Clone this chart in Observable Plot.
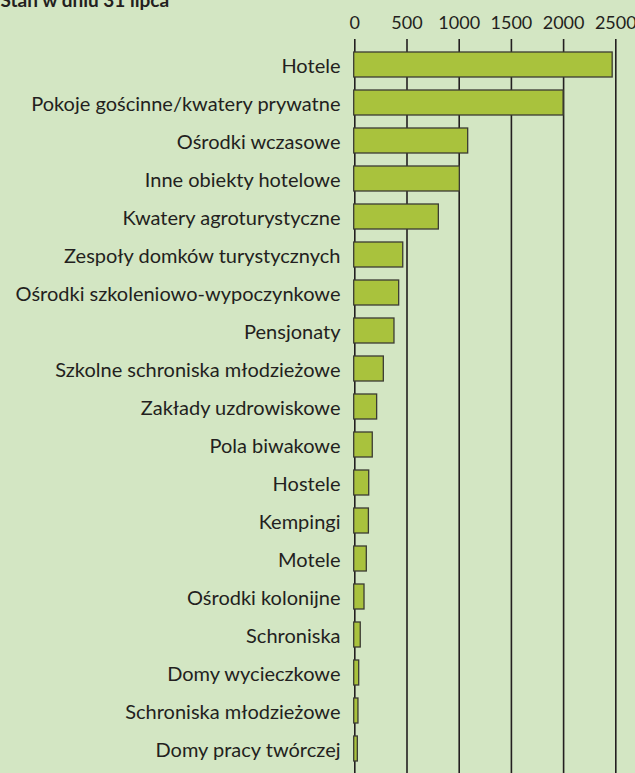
<!DOCTYPE html>
<html>
<head>
<meta charset="utf-8">
<script src="https://cdn.jsdelivr.net/npm/d3@7"></script>
<script src="https://cdn.jsdelivr.net/npm/@observablehq/plot@0.6"></script>
<style>
  html, body { margin: 0; padding: 0; background: #d3e6c3; overflow: hidden; }
  #chart svg { display: block; }
</style>
</head>
<body>
<div id="chart"></div>
<script>
const title = "Stan w dniu 31 lipca";
const categories = [
  "Hotele",
  "Pokoje gościnne/kwatery prywatne",
  "Ośrodki wczasowe",
  "Inne obiekty hotelowe",
  "Kwatery agroturystyczne",
  "Zespoły domków turystycznych",
  "Ośrodki szkoleniowo-wypoczynkowe",
  "Pensjonaty",
  "Szkolne schroniska młodzieżowe",
  "Zakłady uzdrowiskowe",
  "Pola biwakowe",
  "Hostele",
  "Kempingi",
  "Motele",
  "Ośrodki kolonijne",
  "Schroniska",
  "Domy wycieczkowe",
  "Schroniska młodzieżowe",
  "Domy pracy twórczej"
];
const values = [2470, 2000, 1086, 1006, 805, 464, 425, 380, 278, 214, 172, 138, 135, 115, 93, 57, 42, 35, 29];
const xTicks = [0, 500, 1000, 1500, 2000, 2500];

const data = categories.map((c, i) => ({name: c, value: values[i]}));
const ink = "#231f20";

const chart = Plot.plot({
  width: 635,
  height: 773,
  marginLeft: 354,
  marginRight: 20,
  marginTop: 39,
  marginBottom: 0,
  style: {background: "#d3e6c3", fontFamily: "Lato, 'Open Sans', sans-serif", color: ink},
  x: {domain: [0, 2500], range: [354.3, 615.3], ticks: xTicks, label: null},
  y: {domain: categories, paddingInner: 0.33, paddingOuter: 0.165, insetTop: 6, insetBottom: 4, label: null},
  marks: [
    Plot.ruleX(xTicks, {stroke: ink, strokeWidth: 1.6}),
    Plot.barX(data, {x: "value", y: "name", fill: "#a9c23d", stroke: "#3b3b33", strokeWidth: 1.3, insetLeft: -0.6}),
    Plot.axisX({anchor: "top", ticks: xTicks, tickSize: 0, tickPadding: 11, fontSize: 18, tickFormat: d => String(d), fill: ink, label: null}),
    Plot.axisY({tickSize: 0, tickPadding: 14, fontSize: 20, dy: 2, fill: ink, label: null}),
    Plot.text([title], {frameAnchor: "top-left", dx: -354, dy: -33, textAnchor: "start", lineAnchor: "bottom", fontWeight: "bold", fontSize: 19, fill: ink})
  ]
});
document.getElementById("chart").appendChild(chart);
</script>
</body>
</html>
